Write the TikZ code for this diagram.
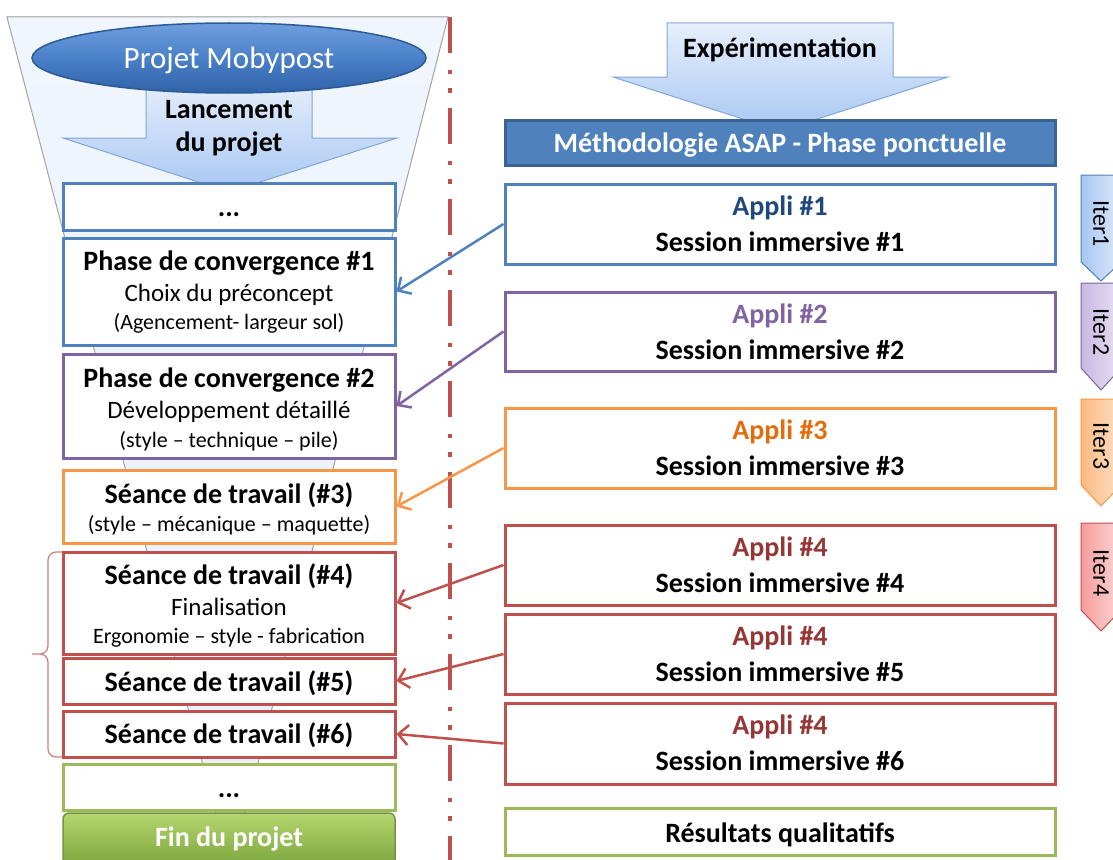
\documentclass[tikz,border=0pt]{standalone}
\usepackage{fontspec}
\setmainfont{Carlito}
\usetikzlibrary{arrows.meta,shapes.geometric,calc}
\definecolor{cblue}{HTML}{4F81BD}
\definecolor{cpurple}{HTML}{8064A2}
\definecolor{corange}{HTML}{F79646}
\definecolor{cred}{HTML}{C0504D}
\definecolor{cgreen}{HTML}{9BBB59}
\definecolor{tblue}{HTML}{1F497D}
\definecolor{torange}{HTML}{E46C0A}
\definecolor{tred}{HTML}{953735}
\definecolor{funfill}{HTML}{E7F0FB}
\definecolor{arrtop}{HTML}{E6EFFC}
\definecolor{arrbot}{HTML}{A8C7F2}
\definecolor{arrline}{HTML}{7FA6D9}
\begin{document}
\begin{tikzpicture}[x=1pt,y=-1pt,
  box/.style={draw, line width=3pt, fill=white, minimum width=332pt, inner sep=0pt},
  rbox/.style={box, minimum width=550pt},
  lt/.style={inner sep=0pt, anchor=base, font=\fontsize{28}{30}\selectfont\bfseries},
  ls/.style={inner sep=0pt, anchor=base, font=\fontsize{25}{28}\selectfont},
  lx/.style={inner sep=0pt, anchor=base, font=\fontsize{22}{24}\selectfont},
  itl/.style={inner sep=0pt, font=\fontsize{24}{26}\selectfont, rotate=-90},
  conn/.style={line width=2.5pt, -{Straight Barb[length=10pt,width=20pt]}},
  blockarrow/.style={draw=arrline, line width=1pt, top color=arrtop, bottom color=arrbot}
]
\useasboundingbox (0,0) rectangle (1113,859);
\clip (0,0) rectangle (1113,859);

% funnel
\fill[top color=funfill!60!white, bottom color=funfill] (7,17) -- (448,17) -- (241,830) -- (220,830) -- cycle;
\draw[gray!70, line width=1pt] (220,830) -- (7,17) -- (448,17) -- (241,830);

% Lancement arrow
\draw[blockarrow] (146,80) -- (312,80) -- (312,138) -- (397,138) -- (229,192) -- (63,138) -- (146,138) -- cycle;
% ellipse
\node[ellipse, draw={rgb,255:red,44;green,91;blue,148}, line width=1.5pt, minimum width=394pt, minimum height=70pt,
  top color={rgb,255:red,110;green,158;blue,222}, bottom color={rgb,255:red,47;green,98;blue,169},
  middle color={rgb,255:red,74;green,128;blue,200}, inner sep=0pt] (ell) at (229,58) {};
\node[inner sep=0pt, anchor=base, font=\fontsize{31}{33}\selectfont, text=white] (mob) at (229,69) {Projet Mobypost};
\node[lt] (lan1) at (229,118) {Lancement};
\node[lt] (lan2) at (229,151) {du projet};

% Experimentation arrow
\draw[blockarrow] (667,23) -- (893,23) -- (893,77) -- (948,77) -- (780,131) -- (613,77) -- (667,77) -- cycle;
\node[lt] (exp) at (780,57) {Expérimentation};

% red dash-dot separator
\coordinate (septop) at (450,17);
\coordinate (sepbot) at (450,870);
\draw[cred, line width=4pt, dash pattern=on 36pt off 17pt on 4pt off 14pt on 5pt off 15pt] (septop) -- (sepbot);

% brace
\draw[cred!75, line width=1.2pt] (63,552) -- (56,552) to[out=180,in=90] (48,560) -- (48,646) to[out=270,in=0] (40,654) -- (32,654)
  (40,654) to[out=0,in=90] (48,662) -- (48,749) to[out=270,in=180] (56,757) -- (63,757);

% left boxes
\node[box, draw=cblue, minimum height=47pt] (d1) at (229,206.5) {};
\node[box, draw=cblue, minimum height=107pt] (p1) at (229,291.5) {};
\node[box, draw=cpurple, minimum height=104pt] (p2) at (229,406) {};
\node[box, draw=corange, minimum height=73pt] (s3) at (229,506.5) {};
\node[box, draw=cred, minimum height=102pt] (s4) at (229,603) {};
\node[box, draw=cred, minimum height=46pt] (s5) at (229,681) {};
\node[box, draw=cred, minimum height=46pt] (s6) at (229,734) {};
\node[box, draw=cgreen, minimum height=46pt] (d2) at (229,787) {};
\node[box, draw={rgb,255:red,115;green,148;blue,66}, line width=1.5pt, rounded corners=6pt, minimum height=57pt,
  top color={rgb,255:red,181;green,213;blue,110}, bottom color={rgb,255:red,119;green,163;blue,58}] (fin) at (229,841.5) {};

\node[lt] (d1t) at (229,216) {...};
\node[lt] (p1a) at (229,270) {Phase de convergence \#1};
\node[ls] (p1b) at (229,301) {Choix du préconcept};
\node[lx] (p1c) at (229,329) {(Agencement- largeur sol)};
\node[lt] (p2a) at (229,387) {Phase de convergence \#2};
\node[ls] (p2b) at (229,418) {Développement détaillé};
\node[lx] (p2c) at (229,447) {(style – technique – pile)};
\node[lt] (s3a) at (229,503) {Séance de travail (\#3)};
\node[lx] (s3b) at (229,531) {(style – mécanique – maquette)};
\node[lt] (s4a) at (229,584) {Séance de travail (\#4)};
\node[ls] (s4b) at (229,615) {Finalisation};
\node[lx] (s4c) at (229,643) {Ergonomie – style - fabrication};
\node[lt] (s5a) at (229,691) {Séance de travail (\#5)};
\node[lt] (s6a) at (229,743) {Séance de travail (\#6)};
\node[lt] (d2t) at (229,797) {...};
\node[lt, text=white] (fint) at (229,846) {Fin du projet};

% right boxes
\node[rbox, draw={rgb,255:red,58;green,99;blue,147}, fill=cblue, minimum height=45pt] (ban) at (780,142.5) {};
\node[lt, text=white] (bant) at (780,152) {Méthodologie ASAP - Phase ponctuelle};
\node[rbox, draw=cblue, minimum height=80pt] (a1) at (780,224) {};
\node[rbox, draw=cpurple, minimum height=79pt] (a2) at (780,331.5) {};
\node[rbox, draw=corange, minimum height=80pt] (a3) at (780,448) {};
\node[rbox, draw=cred, minimum height=80pt] (a4) at (780,565) {};
\node[rbox, draw=cred, minimum height=80pt] (a5) at (780,654) {};
\node[rbox, draw=cred, minimum height=81pt] (a6) at (780,743.5) {};
\node[rbox, draw=cgreen, minimum height=47pt] (res) at (780,831.5) {};

\node[lt, text=tblue] (a1a) at (780,215) {Appli \#1};
\node[lt] (a1b) at (780,251) {Session immersive \#1};
\node[lt, text=cpurple] (a2a) at (780,323) {Appli \#2};
\node[lt] (a2b) at (780,359) {Session immersive \#2};
\node[lt, text=torange] (a3a) at (780,439) {Appli \#3};
\node[lt] (a3b) at (780,475) {Session immersive \#3};
\node[lt, text=tred] (a4a) at (780,556) {Appli \#4};
\node[lt] (a4b) at (780,592) {Session immersive \#4};
\node[lt, text=tred] (a5a) at (780,645) {Appli \#4};
\node[lt] (a5b) at (780,681) {Session immersive \#5};
\node[lt, text=tred] (a6a) at (780,734) {Appli \#4};
\node[lt] (a6b) at (780,770) {Session immersive \#6};
\node[lt] (rest) at (780,842) {Résultats qualitatifs};

% connectors
\draw[conn, cblue] (a1.west) -- (p1.east);
\draw[conn, cpurple] (a2.west) -- (p2.east);
\draw[conn, corange] (a3.west) -- (s3.east);
\draw[conn, cred] (a4.west) -- (s4.east);
\draw[conn, cred] (a5.west) -- (s5.east);
\draw[conn, cred] (a6.west) -- (s6.east);

% iteration tabs
\draw[cblue, line width=1pt, left color={rgb,255:red,166;green,198;blue,242}, right color={rgb,255:red,222;green,233;blue,250}]
  (1081,175) -- (1121,175) -- (1121,262) -- (1101,281) -- (1081,262) -- cycle;
\draw[cpurple, line width=1pt, left color={rgb,255:red,200;green,184;blue,226}, right color={rgb,255:red,232;green,224;blue,243}]
  (1081,283) -- (1121,283) -- (1121,368) -- (1101,390) -- (1081,368) -- cycle;
\draw[corange, line width=1pt, left color={rgb,255:red,251;green,185;blue,128}, right color={rgb,255:red,253;green,224;blue,196}]
  (1081,399) -- (1121,399) -- (1121,485) -- (1101,506) -- (1081,485) -- cycle;
\draw[cred, line width=1pt, left color={rgb,255:red,245;green,156;blue,156}, right color={rgb,255:red,252;green,214;blue,214}]
  (1081,523) -- (1121,523) -- (1121,610) -- (1101,631) -- (1081,610) -- cycle;
\node[itl] (it1) at (1101,223.5) {Iter1};
\node[itl] (it2) at (1101,332) {Iter2};
\node[itl] (it3) at (1101,446) {Iter3};
\node[itl] (it4) at (1101,573) {Iter4};
\end{tikzpicture}
\end{document}
